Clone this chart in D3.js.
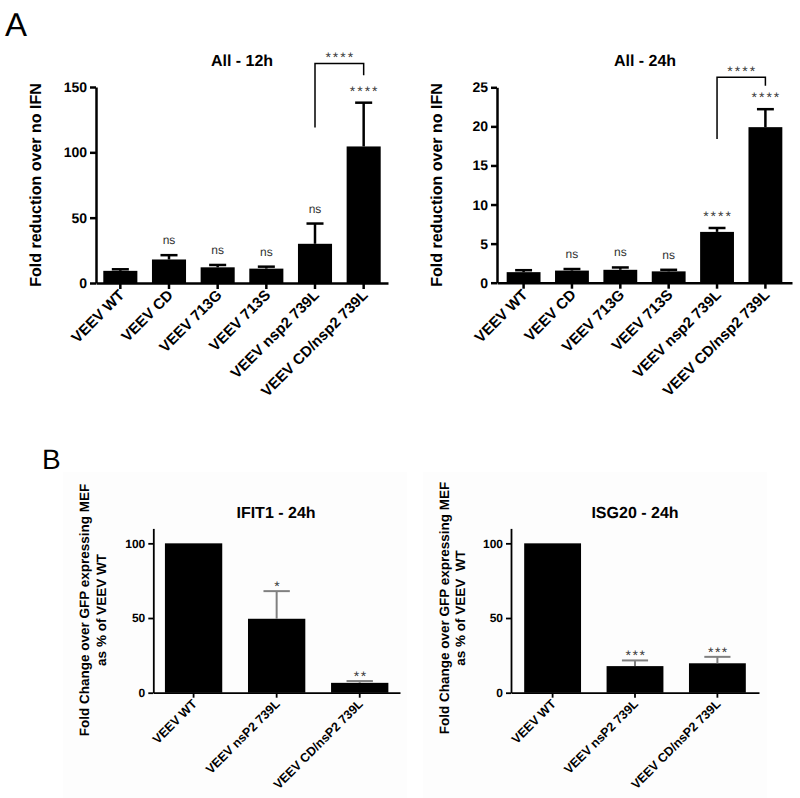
<!DOCTYPE html>
<html><head><meta charset="utf-8">
<script src="https://cdn.jsdelivr.net/npm/d3@7"></script>
<style>
body{margin:0;background:#fff;}
svg{display:block;font-family:"Liberation Sans",Arial,sans-serif;text-rendering:geometricPrecision;}
</style></head>
<body>
<svg id="chart" width="800" height="798"></svg>
<script>
// ---------- DATA ----------
const catsA = ["VEEV WT","VEEV CD","VEEV 713G","VEEV 713S","VEEV nsp2 739L","VEEV CD/nsp2 739L"];
const valsA12 = [9.3, 18, 12, 11, 30, 104.5];
const errA12  = [1.2, 3.3, 1.8, 1.5, 15.5, 33.5];
const sigA12  = ["", "ns", "ns", "ns", "ns", "****"];
const ticksA12 = [0, 50, 100, 150];

const valsA24 = [1.35, 1.55, 1.65, 1.45, 6.5, 19.9];
const errA24  = [0.25, 0.2, 0.3, 0.2, 0.5, 2.3];
const sigA24  = ["", "ns", "ns", "ns", "****", "****"];
const ticksA24 = [0, 5, 10, 15, 20, 25];

const catsB = ["VEEV WT","VEEV nsP2 739L","VEEV CD/nsP2 739L"];
const valsIFIT = [100, 49.5, 6.6];
const errIFIT  = [0, 18.5, 1.2];
const sigIFIT  = ["", "*", "**"];
const valsISG  = [100, 17.8, 19.7];
const errISG   = [0, 3.8, 4.3];
const sigISG   = ["", "***", "***"];
const ticksB = [0, 50, 100];

// bracket comparisons (data units)
const bracketA12 = {from: 4, to: 5, level: 168, leftEnd: 119, rightEnd: 159, label: "****"};
const bracketA24 = {from: 4, to: 5, level: 26.3, leftEnd: 18.4, rightEnd: 25.2, label: "****"};

// ---------- DRAW ----------
const svg = d3.select("#chart");
const FONT = '"Liberation Sans",Arial,sans-serif';

// panel B very light backgrounds
svg.append("rect").attr("x",63).attr("y",472).attr("width",344).attr("height",326).attr("fill","#fdfdfd");
svg.append("rect").attr("x",423).attr("y",472).attr("width",344).attr("height",326).attr("fill","#fdfdfd");

// panel letters
svg.append("text").attr("x",5).attr("y",36).attr("font-size",33).attr("fill","#000").text("A");
svg.append("text").attr("x",42).attr("y",469).attr("font-size",28).attr("fill","#000").text("B");

function panel(o){
  const g = svg.append("g");
  const x = d3.scaleBand().domain(o.cats).range([o.left, o.right])
      .paddingInner(o.padIn).paddingOuter(o.padOut);
  const y = d3.scaleLinear().domain(o.domain).range([o.bottom, o.top]);

  // bars
  g.selectAll("rect.bar").data(o.vals).join("rect")
    .attr("x",(d,i)=>x(o.cats[i])).attr("width",x.bandwidth())
    .attr("y",d=>y(d)).attr("height",d=>y(0)-y(d)).attr("fill","#000");

  // error bars
  const capW = x.bandwidth()*o.capFrac;
  o.vals.forEach((v,i)=>{
    if(!o.errs[i]) return;
    const cx = x(o.cats[i]) + x.bandwidth()/2;
    g.append("line").attr("x1",cx).attr("x2",cx).attr("y1",y(v)).attr("y2",y(v+o.errs[i]))
      .attr("stroke",o.errColor).attr("stroke-width",o.errW);
    g.append("line").attr("x1",cx-capW/2).attr("x2",cx+capW/2)
      .attr("y1",y(v+o.errs[i])).attr("y2",y(v+o.errs[i]))
      .attr("stroke",o.errColor).attr("stroke-width",o.errW);
  });

  // significance labels
  o.sigs.forEach((s,i)=>{
    if(!s) return;
    const cx = x(o.cats[i]) + x.bandwidth()/2;
    const top = y(o.vals[i]+o.errs[i]);
    const isNs = s==="ns";
    g.append("text").attr("x",cx + (isNs?0:1)).attr("y", top - (isNs?o.nsOff:o.starOff))
      .attr("text-anchor","middle").attr("font-size", isNs?12:o.starSize)
      .attr("letter-spacing", isNs?0:o.starSpacing)
      .attr("fill","#333").text(s);
  });

  // bracket
  if(o.bracket){
    const b = o.bracket;
    const x1 = x(o.cats[b.from]) + x.bandwidth()/2;
    const x2 = x(o.cats[b.to]) + x.bandwidth()/2;
    g.append("path")
      .attr("d",`M${x1},${y(b.leftEnd)}V${y(b.level)}H${x2}V${y(b.rightEnd)}`)
      .attr("fill","none").attr("stroke","#000").attr("stroke-width",1.5);
    g.append("text").attr("x",(x1+x2)/2+1).attr("y",y(b.level)-1)
      .attr("text-anchor","middle").attr("font-size",14).attr("letter-spacing",2)
      .attr("fill","#333").text(b.label);
  }

  // axes
  const yAx = g.append("g").attr("transform",`translate(${o.left},0)`)
    .call(d3.axisLeft(y).tickValues(o.ticks).tickSize(o.tickLen).tickSizeOuter(0).tickFormat(d3.format("d")));
  const xAx = g.append("g").attr("transform",`translate(0,${o.bottom})`)
    .call(d3.axisBottom(x).tickSize(o.tickLen).tickSizeOuter(0));
  [yAx,xAx].forEach(a=>{
    a.select(".domain").attr("stroke","#000").attr("stroke-width",o.axW);
    a.selectAll(".tick line").attr("stroke","#000").attr("stroke-width",o.axW);
  });
  yAx.selectAll(".tick text").attr("font-family",FONT).attr("font-weight","bold")
    .attr("font-size",o.tickFont).attr("fill","#000").attr("x",-(o.tickLen+3));
  xAx.selectAll(".tick text").attr("font-family",FONT).attr("font-weight","bold")
    .attr("font-size",o.xFont).attr("fill","#000")
    .attr("text-anchor","end").attr("y",0).attr("dy",0)
    .attr("transform",`translate(${o.xlabDx},${o.xlabDy}) rotate(-45)`);

  // title
  g.append("text").attr("x",o.titleX).attr("y",o.titleY).attr("text-anchor","middle")
    .attr("font-weight","bold").attr("font-size",16).attr("fill","#000").text(o.title);

  // y label
  o.ylab.forEach((t,k)=>{
    g.append("text").attr("transform",`translate(${o.ylabX[k]},${o.ylabY}) rotate(-90)`)
      .attr("text-anchor","middle").attr("font-weight","bold").attr("font-size",o.ylabFont)
      .attr("fill","#000").style("white-space","pre").text(t);
  });
}

panel({cats:catsA, vals:valsA12, errs:errA12, sigs:sigA12, ticks:ticksA12, domain:[0,150],
  left:96, right:388, top:87, bottom:283, padIn:0.3, padOut:0.15,
  capFrac:0.5, errColor:"#000", errW:2.5, axW:2.5, tickLen:6, tickFont:14, xFont:15,
  xlabDx:5, xlabDy:13, nsOff:11, starOff:7, starSize:14, starSpacing:2,
  bracket:bracketA12, title:"All - 12h", titleX:242, titleY:66,
  ylab:["Fold reduction over no IFN"], ylabX:[41], ylabY:185, ylabFont:16});

panel({cats:catsA, vals:valsA24, errs:errA24, sigs:sigA24, ticks:ticksA24, domain:[0,25],
  left:497, right:792, top:87.3, bottom:282.7, padIn:0.3, padOut:0.2,
  capFrac:0.5, errColor:"#000", errW:2.5, axW:2.5, tickLen:6, tickFont:14, xFont:15,
  xlabDx:5, xlabDy:13, nsOff:11, starOff:7, starSize:14, starSpacing:2,
  bracket:bracketA24, title:"All - 24h", titleX:645, titleY:66,
  ylab:["Fold reduction over no IFN"], ylabX:[442], ylabY:185, ylabFont:16});

panel({cats:catsB, vals:valsIFIT, errs:errIFIT, sigs:sigIFIT, ticks:ticksB, domain:[0,110],
  left:153.3, right:400, top:528.4, bottom:692.7, padIn:0.31, padOut:0.14,
  capFrac:0.46, errColor:"#808080", errW:2, axW:1.8, tickLen:5, tickFont:12, xFont:12.5,
  xlabDx:4, xlabDy:12, nsOff:11, starOff:0, starSize:14, starSpacing:1.5,
  bracket:null, title:"IFIT1 - 24h", titleX:276, titleY:518,
  ylab:["Fold Change over GFP expressing MEF","as % of VEEV WT"], ylabX:[89,106], ylabY:610, ylabFont:13.5});

panel({cats:catsB, vals:valsISG, errs:errISG, sigs:sigISG, ticks:ticksB, domain:[0,110],
  left:511, right:759, top:528.4, bottom:692.7, padIn:0.31, padOut:0.16,
  capFrac:0.46, errColor:"#808080", errW:2, axW:1.8, tickLen:5, tickFont:12, xFont:12.5,
  xlabDx:4, xlabDy:12, nsOff:11, starOff:0, starSize:14, starSpacing:1.5,
  bracket:null, title:"ISG20 - 24h", titleX:635, titleY:518,
  ylab:["Fold Change over GFP expressing MEF","as % of VEEV  WT"], ylabX:[449,465], ylabY:608, ylabFont:13.5});
</script>
</body></html>
